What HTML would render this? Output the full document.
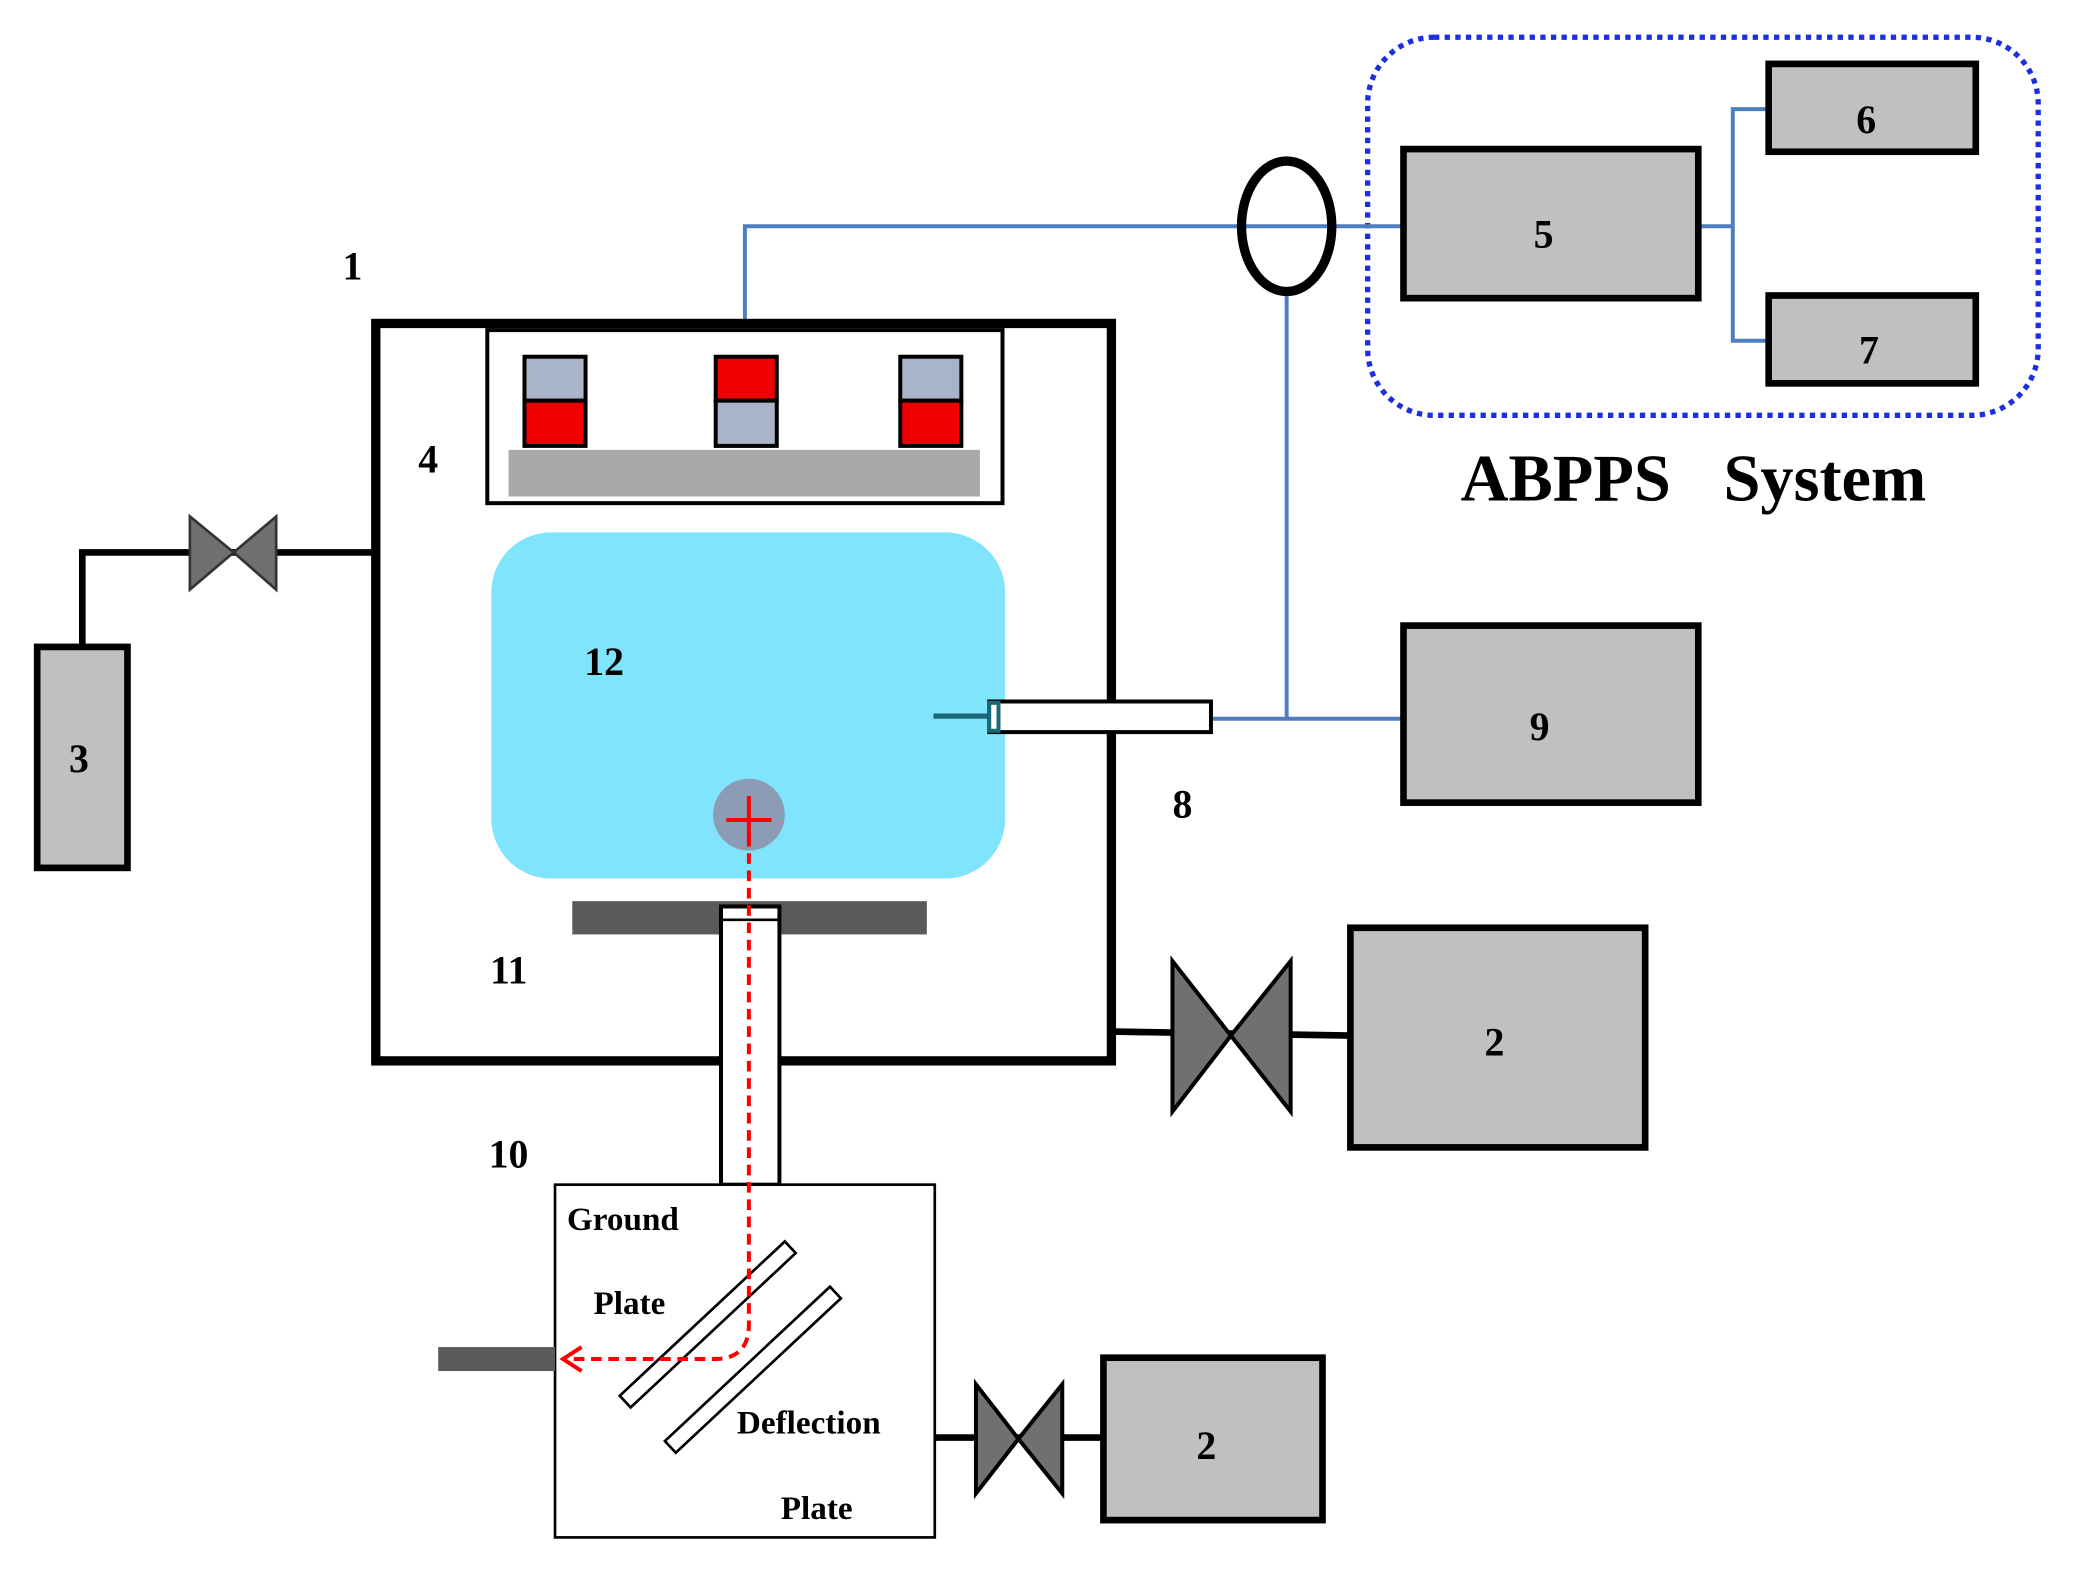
<!DOCTYPE html>
<html><head><meta charset="utf-8"><style>
html,body{margin:0;padding:0;background:#fff;}
svg{display:block;}
text{font-family:"Liberation Serif",serif;font-weight:bold;fill:#000;}
</style></head><body>
<svg width="2086" height="1584" viewBox="0 0 1571 1190" preserveAspectRatio="none" xmlns="http://www.w3.org/2000/svg">
<rect x="1030" y="28" width="505" height="284" rx="50" fill="none" stroke="#1c2fe0" stroke-width="4" stroke-dasharray="4,4"/>
<g stroke="#4f7ec0" stroke-width="3" fill="none">
<polyline points="561,245 561,170 1057,170"/>
<polyline points="969,222 969,540"/>
<line x1="912" y1="540" x2="1057" y2="540"/>
<line x1="1279" y1="170" x2="1305" y2="170"/>
<polyline points="1332,82 1305,82 1305,256 1332,256"/>
</g>
<ellipse cx="969" cy="170" rx="34" ry="49" fill="none" stroke="#000" stroke-width="7"/>
<g fill="#c0c0c0" stroke="#000" stroke-width="5">
<rect x="1057" y="112" width="222" height="112"/>
<rect x="1332" y="48" width="156" height="66"/>
<rect x="1332" y="222" width="156" height="66"/>
<rect x="1057" y="470" width="222" height="133"/>
<rect x="1017" y="697" width="222" height="165"/>
<rect x="831" y="1020" width="165" height="122"/>
<rect x="28" y="486" width="68" height="166"/>
</g>
<polyline points="62,486 62,415 283,415" fill="none" stroke="#000" stroke-width="5"/>
<polygon points="143,388 176,415 143,443" fill="#707070" stroke="#333" stroke-width="2"/>
<polygon points="208,388 176,415 208,443" fill="#707070" stroke="#333" stroke-width="2"/>
<line x1="838" y1="775" x2="1017" y2="778" stroke="#000" stroke-width="5"/>
<polygon points="883,722 927,778 883,835" fill="#707070" stroke="#000" stroke-width="3"/>
<polygon points="972,722 927,778 972,835" fill="#707070" stroke="#000" stroke-width="3"/>
<line x1="704" y1="1080" x2="831" y2="1080" stroke="#000" stroke-width="5"/>
<polygon points="735,1040 767,1081 735,1122" fill="#707070" stroke="#000" stroke-width="3"/>
<polygon points="800,1040 767,1081 800,1122" fill="#707070" stroke="#000" stroke-width="3"/>
<rect x="283" y="243" width="554" height="554" fill="none" stroke="#000" stroke-width="7"/>
<rect x="367" y="248" width="388" height="130" fill="#fff" stroke="#000" stroke-width="3"/>
<rect x="383" y="338" width="355" height="35" fill="#a8a8a8"/>
<g stroke="#000" stroke-width="3">
<rect x="395" y="268" width="46" height="33" fill="#aab4c8"/><rect x="395" y="301" width="46" height="34" fill="#f00000"/>
<rect x="539" y="268" width="46" height="33" fill="#f00000"/><rect x="539" y="301" width="46" height="34" fill="#aab4c8"/>
<rect x="678" y="268" width="46" height="33" fill="#aab4c8"/><rect x="678" y="301" width="46" height="34" fill="#f00000"/>
</g>
<rect x="370" y="400" width="387" height="260" rx="45" fill="#80e4fc"/>
<line x1="703" y1="538" x2="748" y2="538" stroke="#1a6878" stroke-width="4"/>
<rect x="745" y="527" width="167" height="23" fill="#fff" stroke="#000" stroke-width="3"/>
<rect x="745" y="528" width="7" height="21" fill="#fff" stroke="#1a6878" stroke-width="3"/>
<circle cx="564" cy="612" r="27" fill="#8c9cb4"/>
<line x1="547" y1="616" x2="581" y2="616" stroke="#f00" stroke-width="3"/>
<line x1="564" y1="598" x2="564" y2="634" stroke="#f00" stroke-width="3"/>
<rect x="431" y="677" width="267" height="25" fill="#5a5a5a"/>
<rect x="543" y="681" width="44" height="209" fill="#fff" stroke="#000" stroke-width="3"/>
<line x1="543" y1="691" x2="587" y2="691" stroke="#000" stroke-width="2"/>
<rect x="418" y="890" width="286" height="265" fill="#fff" stroke="#000" stroke-width="2"/>
<rect x="330" y="1012" width="88" height="18" fill="#5a5a5a"/>
<g fill="#fff" stroke="#000" stroke-width="2">
<rect x="-85" y="-6" width="170" height="12" transform="translate(533,995) rotate(-43)"/>
<rect x="-85" y="-6" width="170" height="12" transform="translate(567,1029) rotate(-43)"/>
</g>
<path d="M564,628 L564,995 Q564,1021 538,1021 L428,1021" fill="none" stroke="#f00" stroke-width="3" stroke-dasharray="8,5"/>
<polyline points="438,1012 424,1021 438,1030" fill="none" stroke="#f00" stroke-width="3"/>
<g font-size="30">
<text x="258" y="210">1</text>
<text x="315" y="355">4</text>
<text x="440" y="507">12</text>
<text x="883" y="614">8</text>
<text x="369" y="739">11</text>
<text x="368" y="877">10</text>
<text x="1155" y="186">5</text>
<text x="1398" y="100">6</text>
<text x="1400" y="273">7</text>
<text x="1152" y="556">9</text>
<text x="1118" y="793">2</text>
<text x="901" y="1096">2</text>
<text x="52" y="580">3</text>
</g>
<g font-size="25">
<text x="427" y="924">Ground</text>
<text x="447" y="987">Plate</text>
<text x="555" y="1077">Deflection</text>
<text x="588" y="1141">Plate</text>
</g>
<text x="1100" y="376" font-size="50">ABPPS</text>
<text x="1298" y="376" font-size="50">System</text>
</svg>
</body></html>
